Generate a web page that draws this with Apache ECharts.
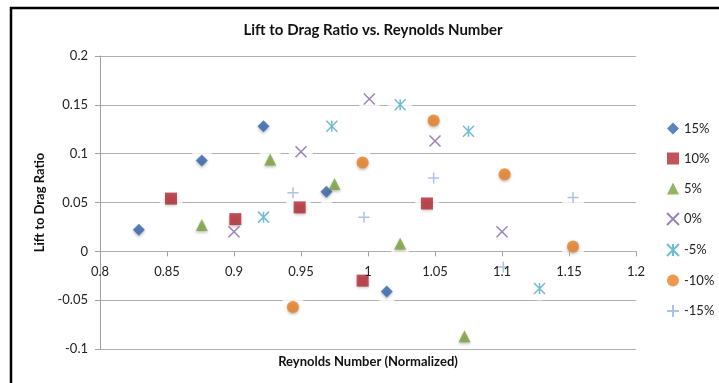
<!DOCTYPE html>
<html><head><meta charset="utf-8">
<script src="https://cdn.jsdelivr.net/npm/echarts@6/dist/echarts.min.js"></script>
<style>html,body{margin:0;padding:0;background:#fff}#c{width:719px;height:383px}</style>
</head><body><div id="c"></div>
<script>
// ---- data ----
const seriesNames = ['15%', '10%', '5%', '0%', '-5%', '-10%', '-15%'];
const x15  = [0.829, 0.876, 0.922, 0.969, 1.014];
const y15  = [0.022, 0.093, 0.128, 0.061, -0.041];
const x10  = [0.853, 0.901, 0.949, 0.996, 1.044];
const y10  = [0.054, 0.033, 0.045, -0.030, 0.049];
const x5   = [0.876, 0.927, 0.975, 1.024, 1.072];
const y5   = [0.027, 0.094, 0.069, 0.008, -0.087];
const x0   = [0.900, 0.950, 1.001, 1.050, 1.100];
const y0   = [0.020, 0.102, 0.156, 0.113, 0.020];
const xm5  = [0.922, 0.973, 1.024, 1.075, 1.128];
const ym5  = [0.035, 0.128, 0.150, 0.123, -0.038];
const xm10 = [0.944, 0.996, 1.049, 1.102, 1.153];
const ym10 = [-0.057, 0.091, 0.134, 0.079, 0.005];
const xm15 = [0.944, 0.997, 1.049, 1.101, 1.153];
const ym15 = [0.060, 0.035, 0.075, -0.016, 0.055];
const titleText = 'Lift to Drag Ratio vs. Reynolds Number';
const xName = 'Reynolds Number (Normalized)';
const yName = 'Lift to Drag Ratio';

// ---- styles ----
const FONT = 'Lato, "Open Sans", sans-serif';
const P_X = 'path://M0,0L10,10M10,0L0,10';
const P_AST = 'path://M0,0L10,10M10,0L0,10M5,0L5,10';
const P_PLUS = 'path://M5,0L5,10M0,5L10,5';
const defs = [
  {xs: x15,  ys: y15,  symbol: 'diamond',  size: 12, color: '#3465AE', stroke: false},
  {xs: x10,  ys: y10,  symbol: 'rect',     size: 12, color: '#B3282E', stroke: false},
  {xs: x5,   ys: y5,   symbol: 'triangle', size: 12, color: '#7AA23B', stroke: false},
  {xs: x0,   ys: y0,   symbol: P_X,        size: 11, color: '#8064A2', stroke: true},
  {xs: xm5,  ys: ym5,  symbol: P_AST,      size: 11, color: '#4BACC6', stroke: true},
  {xs: xm10, ys: ym10, symbol: 'circle',   size: 12, color: '#EB8022', stroke: false},
  {xs: xm15, ys: ym15, symbol: P_PLUS,     size: 11, color: '#9AB2E2', stroke: true}
];

const series = [];
defs.forEach((d, k) => {
  const data = d.xs.map((x, i) => [x, d.ys[i]]);
  series.push({
    type: 'scatter', name: 'halo' + k, data: data, symbol: 'circle', symbolSize: 24,
    itemStyle: {color: '#ffffff'}, silent: true, z: 1, emphasis: {disabled: true}
  });
});
defs.forEach((d, k) => {
  const data = d.xs.map((x, i) => [x, d.ys[i]]);
  series.push({
    type: 'scatter', name: seriesNames[k], data: data, symbol: d.symbol, symbolSize: d.size, z: 3,
    itemStyle: d.stroke
      ? {color: 'rgba(0,0,0,0)', borderColor: d.color, borderWidth: 1.5}
      : {color: d.color, shadowBlur: 3, shadowColor: 'rgba(0,0,0,0.35)', shadowOffsetY: 1.5}
  });
});

// plot area: top 56, bottom 349 -> y range 0.3 over 293px; x axis sits at y = 0
const GRID_TOP = 56, GRID_BOTTOM = 34, CH = 383;
const plotH = CH - GRID_TOP - GRID_BOTTOM;
const zeroOffset = -plotH * (0 - (-0.1)) / (0.2 - (-0.1));

const chart = echarts.init(document.getElementById('c'), null, {renderer: 'canvas'});
chart.setOption({
  animation: false,
  backgroundColor: '#ffffff',
  textStyle: {fontFamily: FONT},
  grid: {left: 100, right: 83, top: GRID_TOP, bottom: GRID_BOTTOM, containLabel: false, outerBoundsMode: 'none'},
  graphic: [
    {type: 'rect', z: 100, shape: {x: 11, y: 8, width: 800, height: 500},
     style: {fill: 'none', stroke: '#000', lineWidth: 2.5}},
    {type: 'text', x: 373, y: 30, z: 100,
     style: {text: titleText, align: 'center', verticalAlign: 'middle',
             font: 'bold 15px ' + FONT, fill: '#111'}}
  ],
  legend: {
    orient: 'vertical', left: 666, top: 122, itemWidth: 12, itemHeight: 12, itemGap: 17,
    padding: 0, textStyle: {fontSize: 13, color: '#222', fontFamily: FONT},
    data: seriesNames, selectedMode: false
  },
  xAxis: {
    type: 'value', min: 0.8, max: 1.2, interval: 0.05, z: 10, position: 'bottom',
    offset: zeroOffset,
    name: xName, nameLocation: 'middle', nameGap: 104,
    nameTextStyle: {fontSize: 13, fontWeight: 'bold', color: '#111', fontFamily: FONT},
    axisLine: {show: false, onZero: false},
    axisTick: {show: true, length: 5, lineStyle: {color: '#a0a0a0'}},
    axisLabel: {fontSize: 13, color: '#222', margin: 14, fontFamily: FONT},
    splitLine: {show: false}
  },
  yAxis: {
    type: 'value', min: -0.1, max: 0.2, interval: 0.05,
    name: yName, nameLocation: 'middle', nameGap: 53,
    nameTextStyle: {fontSize: 13, fontWeight: 'bold', color: '#111', fontFamily: FONT},
    axisLine: {show: true, lineStyle: {color: '#a0a0a0'}},
    axisTick: {show: true, length: 5, lineStyle: {color: '#a0a0a0'}},
    axisLabel: {fontSize: 13, color: '#222', margin: 12, fontFamily: FONT},
    splitLine: {show: true, lineStyle: {color: '#b0b0b0', width: 1}}
  },
  series: series
});
</script>
</body></html>
